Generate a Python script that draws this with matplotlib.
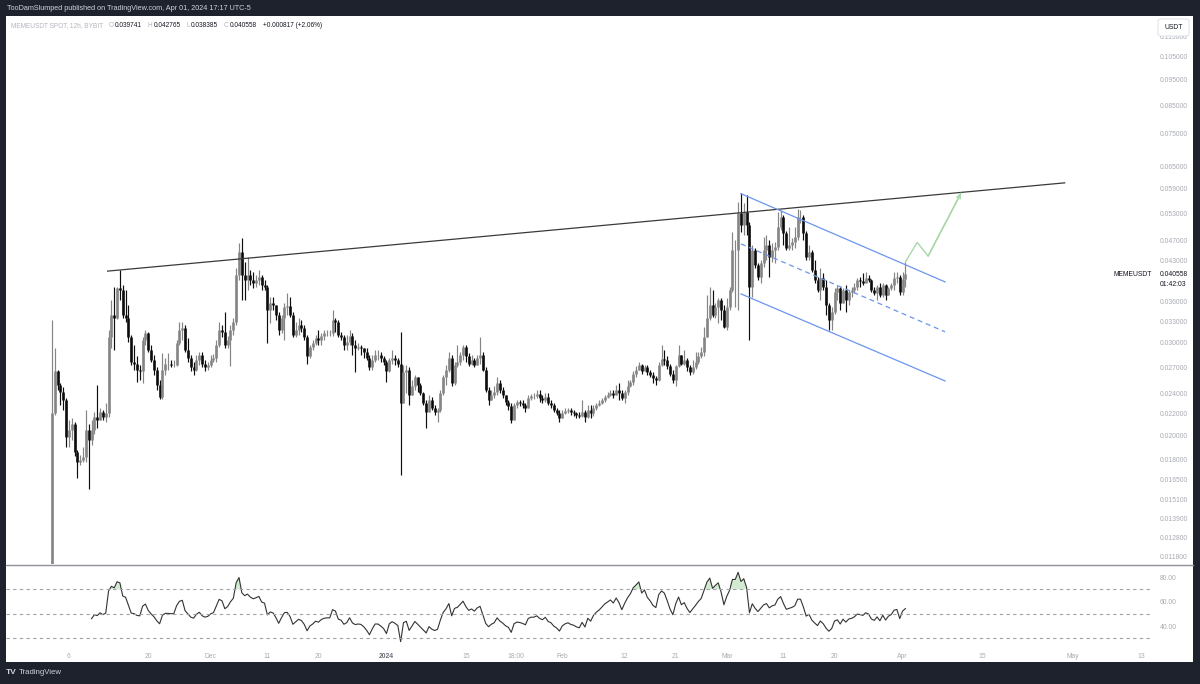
import matplotlib
matplotlib.use("Agg")
import matplotlib.pyplot as plt
import matplotlib.dates as mdates
from matplotlib.patches import Rectangle, FancyBboxPatch
from matplotlib.lines import Line2D
from matplotlib.ticker import FixedLocator, NullLocator, FuncFormatter
import numpy as np
import pandas as pd

plt.rcParams['font.family'] = ['Liberation Sans', 'DejaVu Sans']

# ---- data: MEMEUSDT 12h candles, Nov 3 2023 -> Apr 1 2024 ----
times = pd.date_range("2023-11-03 00:00", periods=302, freq="12h")
first_open = 0.0100

closes = [
    0.0221, 0.0265, 0.0250, 0.0242, 0.0234, 0.0199, 0.0205, 0.0210, 0.0186, 0.0178,
    0.0180, 0.0182, 0.0205, 0.0196, 0.0205, 0.0217, 0.0214, 0.0222, 0.0217, 0.0221,
    0.0308, 0.0339, 0.0335, 0.0381, 0.0378, 0.0339, 0.0335, 0.0308, 0.0276, 0.0274,
    0.0267, 0.0265, 0.0304, 0.0314, 0.0291, 0.0278, 0.0267, 0.0250, 0.0237, 0.0267,
    0.0274, 0.0274, 0.0273, 0.0273, 0.0300, 0.0317, 0.0321, 0.0291, 0.0281, 0.0270,
    0.0267, 0.0278, 0.0284, 0.0274, 0.0270, 0.0272, 0.0278, 0.0281, 0.0298, 0.0318,
    0.0315, 0.0298, 0.0304, 0.0318, 0.0329, 0.0404, 0.0447, 0.0404, 0.0395, 0.0404,
    0.0395, 0.0390, 0.0395, 0.0401, 0.0386, 0.0383, 0.0347, 0.0357, 0.0354, 0.0339,
    0.0318, 0.0335, 0.0351, 0.0352, 0.0339, 0.0311, 0.0318, 0.0325, 0.0321, 0.0308,
    0.0283, 0.0295, 0.0300, 0.0307, 0.0304, 0.0310, 0.0313, 0.0314, 0.0314, 0.0332,
    0.0329, 0.0311, 0.0308, 0.0298, 0.0301, 0.0310, 0.0298, 0.0294, 0.0295, 0.0294,
    0.0289, 0.0281, 0.0270, 0.0278, 0.0285, 0.0285, 0.0281, 0.0276, 0.0265, 0.0278,
    0.0281, 0.0278, 0.0274, 0.0231, 0.0264, 0.0267, 0.0239, 0.0248, 0.0258, 0.0250,
    0.0241, 0.0231, 0.0222, 0.0234, 0.0226, 0.0222, 0.0224, 0.0241, 0.0258, 0.0267,
    0.0281, 0.0252, 0.0273, 0.0276, 0.0285, 0.0295, 0.0283, 0.0274, 0.0278, 0.0273,
    0.0281, 0.0285, 0.0267, 0.0244, 0.0234, 0.0239, 0.0242, 0.0252, 0.0244, 0.0239,
    0.0232, 0.0228, 0.0214, 0.0229, 0.0232, 0.0231, 0.0229, 0.0226, 0.0236, 0.0238,
    0.0238, 0.0240, 0.0236, 0.0234, 0.0237, 0.0231, 0.0229, 0.0224, 0.0221, 0.0216,
    0.0221, 0.0223, 0.0224, 0.0222, 0.0221, 0.0219, 0.0218, 0.0222, 0.0217, 0.0224,
    0.0221, 0.0226, 0.0229, 0.0231, 0.0234, 0.0237, 0.0239, 0.0241, 0.0239, 0.0244,
    0.0241, 0.0236, 0.0242, 0.0248, 0.0253, 0.0262, 0.0267, 0.0273, 0.0265, 0.0270,
    0.0264, 0.0261, 0.0257, 0.0255, 0.0273, 0.0280, 0.0278, 0.0271, 0.0262, 0.0255,
    0.0271, 0.0284, 0.0274, 0.0278, 0.0270, 0.0264, 0.0270, 0.0276, 0.0283, 0.0289,
    0.0308, 0.0335, 0.0354, 0.0339, 0.0351, 0.0362, 0.0347, 0.0322, 0.0351, 0.0378,
    0.0451, 0.0451, 0.0530, 0.0503, 0.0532, 0.0503, 0.0383, 0.0451, 0.0422, 0.0401,
    0.0426, 0.0451, 0.0461, 0.0437, 0.0451, 0.0457, 0.0499, 0.0520, 0.0486, 0.0455,
    0.0461, 0.0467, 0.0477, 0.0520, 0.0520, 0.0486, 0.0437, 0.0447, 0.0413, 0.0395,
    0.0378, 0.0399, 0.0383, 0.0354, 0.0332, 0.0343, 0.0375, 0.0381, 0.0357, 0.0378,
    0.0362, 0.0375, 0.0378, 0.0384, 0.0395, 0.0393, 0.0390, 0.0399, 0.0395, 0.0378,
    0.0373, 0.0383, 0.0370, 0.0386, 0.0370, 0.0381, 0.0386, 0.0399, 0.0401, 0.0375,
    0.039741, 0.040558,
]

highs = [
    0.0332, 0.0294, 0.0267, 0.0252, 0.0247, 0.0236, 0.0214, 0.0216, 0.0212, 0.0188,
    0.0184, 0.0190, 0.0224, 0.0210, 0.0214, 0.0222, 0.0250, 0.0226, 0.0224, 0.0231,
    0.0318, 0.0362, 0.0383, 0.0383, 0.0413, 0.0386, 0.0378, 0.0354, 0.0311, 0.0298,
    0.0283, 0.0273, 0.0308, 0.0318, 0.0315, 0.0298, 0.0285, 0.0270, 0.0255, 0.0287,
    0.0281, 0.0287, 0.0278, 0.0278, 0.0304, 0.0329, 0.0329, 0.0325, 0.0307, 0.0285,
    0.0276, 0.0285, 0.0289, 0.0289, 0.0278, 0.0276, 0.0284, 0.0286, 0.0304, 0.0329,
    0.0325, 0.0343, 0.0310, 0.0325, 0.0335, 0.0417, 0.0465, 0.0475, 0.0428, 0.0437,
    0.0413, 0.0409, 0.0404, 0.0413, 0.0404, 0.0395, 0.0386, 0.0367, 0.0367, 0.0354,
    0.0344, 0.0339, 0.0357, 0.0373, 0.0367, 0.0343, 0.0329, 0.0335, 0.0332, 0.0325,
    0.0311, 0.0298, 0.0304, 0.0311, 0.0318, 0.0314, 0.0318, 0.0318, 0.0318, 0.0347,
    0.0335, 0.0332, 0.0315, 0.0311, 0.0311, 0.0318, 0.0314, 0.0304, 0.0300, 0.0298,
    0.0294, 0.0294, 0.0285, 0.0285, 0.0291, 0.0291, 0.0289, 0.0283, 0.0278, 0.0281,
    0.0291, 0.0285, 0.0281, 0.0315, 0.0273, 0.0273, 0.0270, 0.0255, 0.0261, 0.0258,
    0.0252, 0.0242, 0.0234, 0.0239, 0.0237, 0.0229, 0.0226, 0.0244, 0.0261, 0.0273,
    0.0289, 0.0285, 0.0276, 0.0298, 0.0289, 0.0298, 0.0298, 0.0287, 0.0285, 0.0281,
    0.0284, 0.0308, 0.0289, 0.0270, 0.0247, 0.0244, 0.0249, 0.0259, 0.0255, 0.0247,
    0.0239, 0.0234, 0.0231, 0.0231, 0.0234, 0.0234, 0.0234, 0.0231, 0.0239, 0.0240,
    0.0241, 0.0244, 0.0244, 0.0239, 0.0241, 0.0241, 0.0234, 0.0231, 0.0226, 0.0224,
    0.0224, 0.0226, 0.0226, 0.0226, 0.0224, 0.0222, 0.0222, 0.0234, 0.0224, 0.0229,
    0.0229, 0.0229, 0.0231, 0.0234, 0.0236, 0.0239, 0.0242, 0.0244, 0.0244, 0.0250,
    0.0252, 0.0244, 0.0244, 0.0255, 0.0255, 0.0265, 0.0271, 0.0276, 0.0274, 0.0273,
    0.0272, 0.0267, 0.0264, 0.0260, 0.0276, 0.0298, 0.0291, 0.0283, 0.0274, 0.0267,
    0.0273, 0.0298, 0.0285, 0.0291, 0.0281, 0.0273, 0.0278, 0.0289, 0.0289, 0.0295,
    0.0322, 0.0370, 0.0383, 0.0378, 0.0357, 0.0365, 0.0365, 0.0354, 0.0365, 0.0383,
    0.0488, 0.0471, 0.0556, 0.0578, 0.0554, 0.0573, 0.0510, 0.0461, 0.0455, 0.0426,
    0.0432, 0.0477, 0.0481, 0.0471, 0.0465, 0.0467, 0.0532, 0.0537, 0.0525, 0.0490,
    0.0499, 0.0475, 0.0499, 0.0539, 0.0537, 0.0525, 0.0490, 0.0461, 0.0450, 0.0432,
    0.0401, 0.0417, 0.0408, 0.0395, 0.0357, 0.0351, 0.0381, 0.0386, 0.0384, 0.0381,
    0.0386, 0.0378, 0.0383, 0.0390, 0.0399, 0.0401, 0.0408, 0.0409, 0.0404, 0.0397,
    0.0383, 0.0386, 0.0390, 0.0390, 0.0388, 0.0384, 0.0390, 0.0409, 0.0409, 0.0404,
    0.0409, 0.042765,
]

lows = [
    0.0093, 0.0219, 0.0244, 0.0229, 0.0224, 0.0190, 0.0190, 0.0196, 0.0183, 0.0166,
    0.0176, 0.0178, 0.0178, 0.0158, 0.0192, 0.0201, 0.0207, 0.0214, 0.0214, 0.0212,
    0.0217, 0.0294, 0.0291, 0.0333, 0.0362, 0.0335, 0.0329, 0.0301, 0.0273, 0.0267,
    0.0253, 0.0255, 0.0252, 0.0298, 0.0289, 0.0276, 0.0261, 0.0244, 0.0235, 0.0235,
    0.0261, 0.0267, 0.0270, 0.0270, 0.0271, 0.0298, 0.0304, 0.0289, 0.0276, 0.0265,
    0.0261, 0.0265, 0.0273, 0.0270, 0.0265, 0.0267, 0.0270, 0.0276, 0.0276, 0.0295,
    0.0308, 0.0294, 0.0294, 0.0271, 0.0311, 0.0325, 0.0395, 0.0362, 0.0362, 0.0378,
    0.0386, 0.0381, 0.0384, 0.0386, 0.0378, 0.0378, 0.0300, 0.0328, 0.0347, 0.0332,
    0.0311, 0.0314, 0.0304, 0.0339, 0.0336, 0.0308, 0.0308, 0.0311, 0.0315, 0.0304,
    0.0274, 0.0281, 0.0291, 0.0297, 0.0298, 0.0298, 0.0304, 0.0310, 0.0310, 0.0310,
    0.0315, 0.0308, 0.0304, 0.0291, 0.0291, 0.0298, 0.0285, 0.0264, 0.0291, 0.0285,
    0.0281, 0.0278, 0.0267, 0.0267, 0.0276, 0.0278, 0.0276, 0.0273, 0.0253, 0.0264,
    0.0274, 0.0273, 0.0270, 0.0168, 0.0231, 0.0241, 0.0229, 0.0239, 0.0244, 0.0242,
    0.0239, 0.0229, 0.0207, 0.0222, 0.0224, 0.0219, 0.0212, 0.0222, 0.0239, 0.0250,
    0.0264, 0.0248, 0.0250, 0.0270, 0.0273, 0.0278, 0.0276, 0.0271, 0.0273, 0.0270,
    0.0272, 0.0274, 0.0265, 0.0242, 0.0229, 0.0234, 0.0236, 0.0239, 0.0241, 0.0236,
    0.0229, 0.0224, 0.0211, 0.0214, 0.0226, 0.0228, 0.0226, 0.0222, 0.0226, 0.0234,
    0.0235, 0.0236, 0.0232, 0.0231, 0.0232, 0.0229, 0.0226, 0.0222, 0.0219, 0.0212,
    0.0216, 0.0220, 0.0221, 0.0219, 0.0218, 0.0216, 0.0216, 0.0217, 0.0212, 0.0216,
    0.0216, 0.0218, 0.0224, 0.0228, 0.0230, 0.0232, 0.0236, 0.0238, 0.0236, 0.0239,
    0.0234, 0.0234, 0.0231, 0.0239, 0.0247, 0.0250, 0.0259, 0.0267, 0.0262, 0.0265,
    0.0261, 0.0258, 0.0252, 0.0250, 0.0254, 0.0271, 0.0272, 0.0268, 0.0260, 0.0252,
    0.0248, 0.0270, 0.0273, 0.0273, 0.0265, 0.0261, 0.0262, 0.0268, 0.0274, 0.0281,
    0.0283, 0.0308, 0.0332, 0.0336, 0.0335, 0.0328, 0.0332, 0.0321, 0.0318, 0.0347,
    0.0375, 0.0351, 0.0347, 0.0488, 0.0481, 0.0481, 0.0304, 0.0367, 0.0417, 0.0395,
    0.0390, 0.0418, 0.0432, 0.0401, 0.0428, 0.0426, 0.0451, 0.0492, 0.0461, 0.0451,
    0.0451, 0.0451, 0.0455, 0.0470, 0.0507, 0.0471, 0.0432, 0.0432, 0.0409, 0.0390,
    0.0375, 0.0362, 0.0378, 0.0339, 0.0317, 0.0318, 0.0340, 0.0362, 0.0347, 0.0357,
    0.0343, 0.0354, 0.0367, 0.0373, 0.0378, 0.0383, 0.0386, 0.0390, 0.0392, 0.0375,
    0.0370, 0.0362, 0.0367, 0.0367, 0.0362, 0.0370, 0.0378, 0.0378, 0.0390, 0.0370,
    0.0370, 0.038385,
]

price_ticks = [0.115, 0.105, 0.095, 0.085, 0.075, 0.065, 0.059, 0.053, 0.047, 0.043,
               0.036, 0.033, 0.030, 0.027, 0.024, 0.022, 0.020, 0.018, 0.0165, 0.0151,
               0.0139, 0.0128, 0.0118]

date_ticks = ["2023-11-06", "2023-11-20", "2023-12-01", "2023-12-11", "2023-12-20",
              "2024-01-01", "2024-01-15", "2024-01-23 18:00", "2024-02-01", "2024-02-12",
              "2024-02-21", "2024-03-01", "2024-03-11", "2024-03-20", "2024-04-01",
              "2024-04-15", "2024-05-01", "2024-05-13"]
date_labels = ["6", "20", "Dec", "11", "20", "2024", "15", "18:00", "Feb", "12",
               "21", "Mar", "11", "20", "Apr", "15", "May", "13"]

# legend line: (text, is_value)
legend_parts = [("MEMEUSDT SPOT, 12h, BYBIT", False), ("O", False), ("0.039741", True),
                ("H", False), ("0.042765", True), ("L", False), ("0.038385", True),
                ("C", False), ("0.040558", True), ("+0.000817 (+2.06%)", True)]

# drawings on the chart (time, price)
trend_pts = [("2023-11-12 20:00", 0.0411), ("2024-04-29 14:00", 0.0605)]
chan_upper = [("2024-03-03 12:00", 0.0577), ("2024-04-08 12:00", 0.0392)]
chan_mid = [("2024-03-03 12:00", 0.0463), ("2024-04-08 12:00", 0.0315)]
chan_lower = [("2024-03-03 12:00", 0.0372), ("2024-04-08 12:00", 0.0254)]
arrow_pts = [("2024-04-01 12:00", 0.0428), ("2024-04-03 14:00", 0.0466),
             ("2024-04-05 12:00", 0.0439), ("2024-04-11 07:00", 0.0578)]


def rsi_wilder(values, length=14):
    c = np.asarray(values, dtype=float)
    delta = np.diff(c)
    gain = np.clip(delta, 0, None)
    loss = np.clip(-delta, 0, None)
    out = np.full(len(c), np.nan)
    ag = gain[:length].mean()
    al = loss[:length].mean()
    out[length] = 100 - 100 / (1 + ag / al)
    for k in range(length, len(delta)):
        ag = (ag * (length - 1) + gain[k]) / length
        al = (al * (length - 1) + loss[k]) / length
        out[k + 1] = 100.0 if al == 0 else 100 - 100 / (1 + ag / al)
    return out


W, H = 1200, 684
BG = "#1e222d"
LABEL = "#a8abb3"
LIGHT = "#b2b5be"
DARK = "#131722"


def frac(x0, y0, x1, y1):
    return [x0 / W, 1 - y1 / H, (x1 - x0) / W, (y1 - y0) / H]


def to_xy(pts):
    return [mdates.date2num(pd.Timestamp(t)) for t, _ in pts], [p for _, p in pts]


fig = plt.figure(figsize=(12, 6.84), dpi=100, facecolor=BG)
fig.add_artist(Rectangle((6 / W, 1 - 662 / H), (1193 - 6) / W, (662 - 16) / H,
                         transform=fig.transFigure, facecolor="white",
                         edgecolor="none", zorder=-10))

ax = fig.add_axes(frac(6, 16, 1150, 564))
rsi_ax = fig.add_axes(frac(6, 565, 1150, 645), sharex=ax)
for a in (ax, rsi_ax):
    a.set_facecolor("none")
    for s in a.spines.values():
        s.set_visible(False)

# ---- candles ----
t = mdates.date2num(times)
o = np.array([first_open] + closes[:-1])
c = np.array(closes)
hi = np.array(highs)
lo = np.array(lows)
up = c >= o
cols = np.where(up, "#858585", "#0d0d0d")
ax.vlines(t, lo, hi, colors=cols, linewidth=0.85)
ax.vlines(t, np.minimum(o, c), np.maximum(o, c), colors=cols, linewidth=1.9)

ax.set_yscale("log")
ax.set_ylim(0.011394, 0.12565)
ax.set_xlim(pd.Timestamp("2023-10-25 22:00"), pd.Timestamp("2024-05-14 15:00"))

# drawings
x, y = to_xy(trend_pts)
ax.plot(x, y, color="#3a3a3a", linewidth=0.9)
for pts, ls in ((chan_upper, "-"), (chan_lower, "-"), (chan_mid, (0, (4, 3)))):
    x, y = to_xy(pts)
    ax.plot(x, y, color="#6b95ee", linewidth=0.9, linestyle=ls)
x, y = to_xy(arrow_pts)
ax.plot(x, y, color="#a8d8a8", linewidth=1.0)
ax.annotate("", xy=(x[-1], y[-1]), xytext=(x[-2], y[-2]),
            arrowprops=dict(arrowstyle="->", color="#a8d8a8", lw=1.0,
                            mutation_scale=7, shrinkA=0, shrinkB=0))

ax.yaxis.tick_right()
ax.yaxis.set_major_locator(FixedLocator(price_ticks))
ax.yaxis.set_minor_locator(NullLocator())
ax.yaxis.set_major_formatter(FuncFormatter(lambda v, _: f"{v:.6f}"))
ax.tick_params(axis="y", length=0, pad=7.2, labelsize=4.9, labelcolor=LABEL)
ax.tick_params(axis="x", length=0, labelbottom=False)
for lbl in ax.get_yticklabels():
    lbl.set_horizontalalignment("left")

# last price label
last = closes[-1]
ax.annotate("MEMEUSDT", xy=(1.0, last), xycoords=("axes fraction", "data"),
            xytext=(1.5, 0), textcoords="offset points", ha="right", va="center",
            fontsize=4.9, color=DARK, annotation_clip=False)
ax.annotate(f"{last:.6f}", xy=(1.0, last), xycoords=("axes fraction", "data"),
            xytext=(7.2, 0), textcoords="offset points", ha="left", va="center",
            fontsize=4.9, color=DARK, annotation_clip=False)
ax.annotate("01:42:03", xy=(1.0, last), xycoords=("axes fraction", "data"),
            xytext=(7.2, -7.2), textcoords="offset points", ha="left", va="center",
            fontsize=4.9, color=DARK, annotation_clip=False)

# ---- RSI pane ----
rsi = rsi_wilder(closes)
rsi_ax.plot(t, rsi, color="#333333", linewidth=0.8)
rsi_ax.fill_between(t, 70, rsi, where=rsi > 70, interpolate=True,
                    color="#c8e6c9", alpha=0.8, linewidth=0)
for lvl in (70, 50, 30):
    rsi_ax.axhline(lvl, color="#a0a3ab", linewidth=0.8, linestyle=(0, (3, 3)))
rsi_ax.set_ylim(24.49, 89.8)
rsi_ax.yaxis.tick_right()
rsi_ax.set_yticks([40, 60, 80])
rsi_ax.yaxis.set_major_formatter(FuncFormatter(lambda v, _: f"{v:.2f}"))
rsi_ax.tick_params(axis="y", length=0, pad=7.2, labelsize=4.9, labelcolor=LABEL)
for lbl in rsi_ax.get_yticklabels():
    lbl.set_horizontalalignment("left")

rsi_ax.set_xticks([mdates.date2num(pd.Timestamp(d)) for d in date_ticks])
rsi_ax.set_xticklabels(date_labels)
rsi_ax.tick_params(axis="x", length=0, pad=5.5, labelsize=4.9, labelcolor=LABEL)
for lbl in rsi_ax.get_xticklabels():
    if lbl.get_text() == "2024":
        lbl.set_color("#6a6d78")
        lbl.set_fontweight("bold")

# pane separator
fig.add_artist(Line2D([6 / W, 1193 / W], [1 - 564.5 / H] * 2, transform=fig.transFigure,
                      color="#8f929b", linewidth=1.0))

# USDT box on the price scale
fig.add_artist(FancyBboxPatch((1158 / W, 1 - 36 / H), 31 / W, 17 / H,
                              boxstyle="round,pad=0,rounding_size=0.003",
                              transform=fig.transFigure, facecolor="white",
                              edgecolor="#e0e3eb", linewidth=0.8, zorder=5))
fig.text(1173.5 / W, 1 - 27.5 / H, "USDT", fontsize=4.9, color=DARK,
         ha="center", va="center", zorder=6)

# header bar
fig.text(7 / W, 1 - 8 / H, "TooDamSlumped published on TradingView.com, Apr 01, 2024 17:17 UTC-5",
         fontsize=5.2, color="#d1d4dc", va="center")

# legend line, laid out piece by piece
renderer = fig.canvas.get_renderer()
legend_y = 1 - 25.5 / H
xpos = 11.0
for k, (txt, is_val) in enumerate(legend_parts):
    tobj = fig.text(xpos / W, legend_y, txt, fontsize=4.7,
                    color=DARK if is_val else LIGHT, va="center")
    width = tobj.get_window_extent(renderer).width
    gap = 0.8 if (not is_val and k > 0) else 6.0
    xpos += width + gap

# footer logo
fig.text(6 / W, 1 - 673 / H, "TV", fontsize=6, color="#d1d4dc", fontweight="bold", va="center")
fig.text(19 / W, 1 - 673 / H, "TradingView", fontsize=5.6, color="#d1d4dc", va="center")

fig.savefig("out.png", dpi=100, facecolor=BG)
